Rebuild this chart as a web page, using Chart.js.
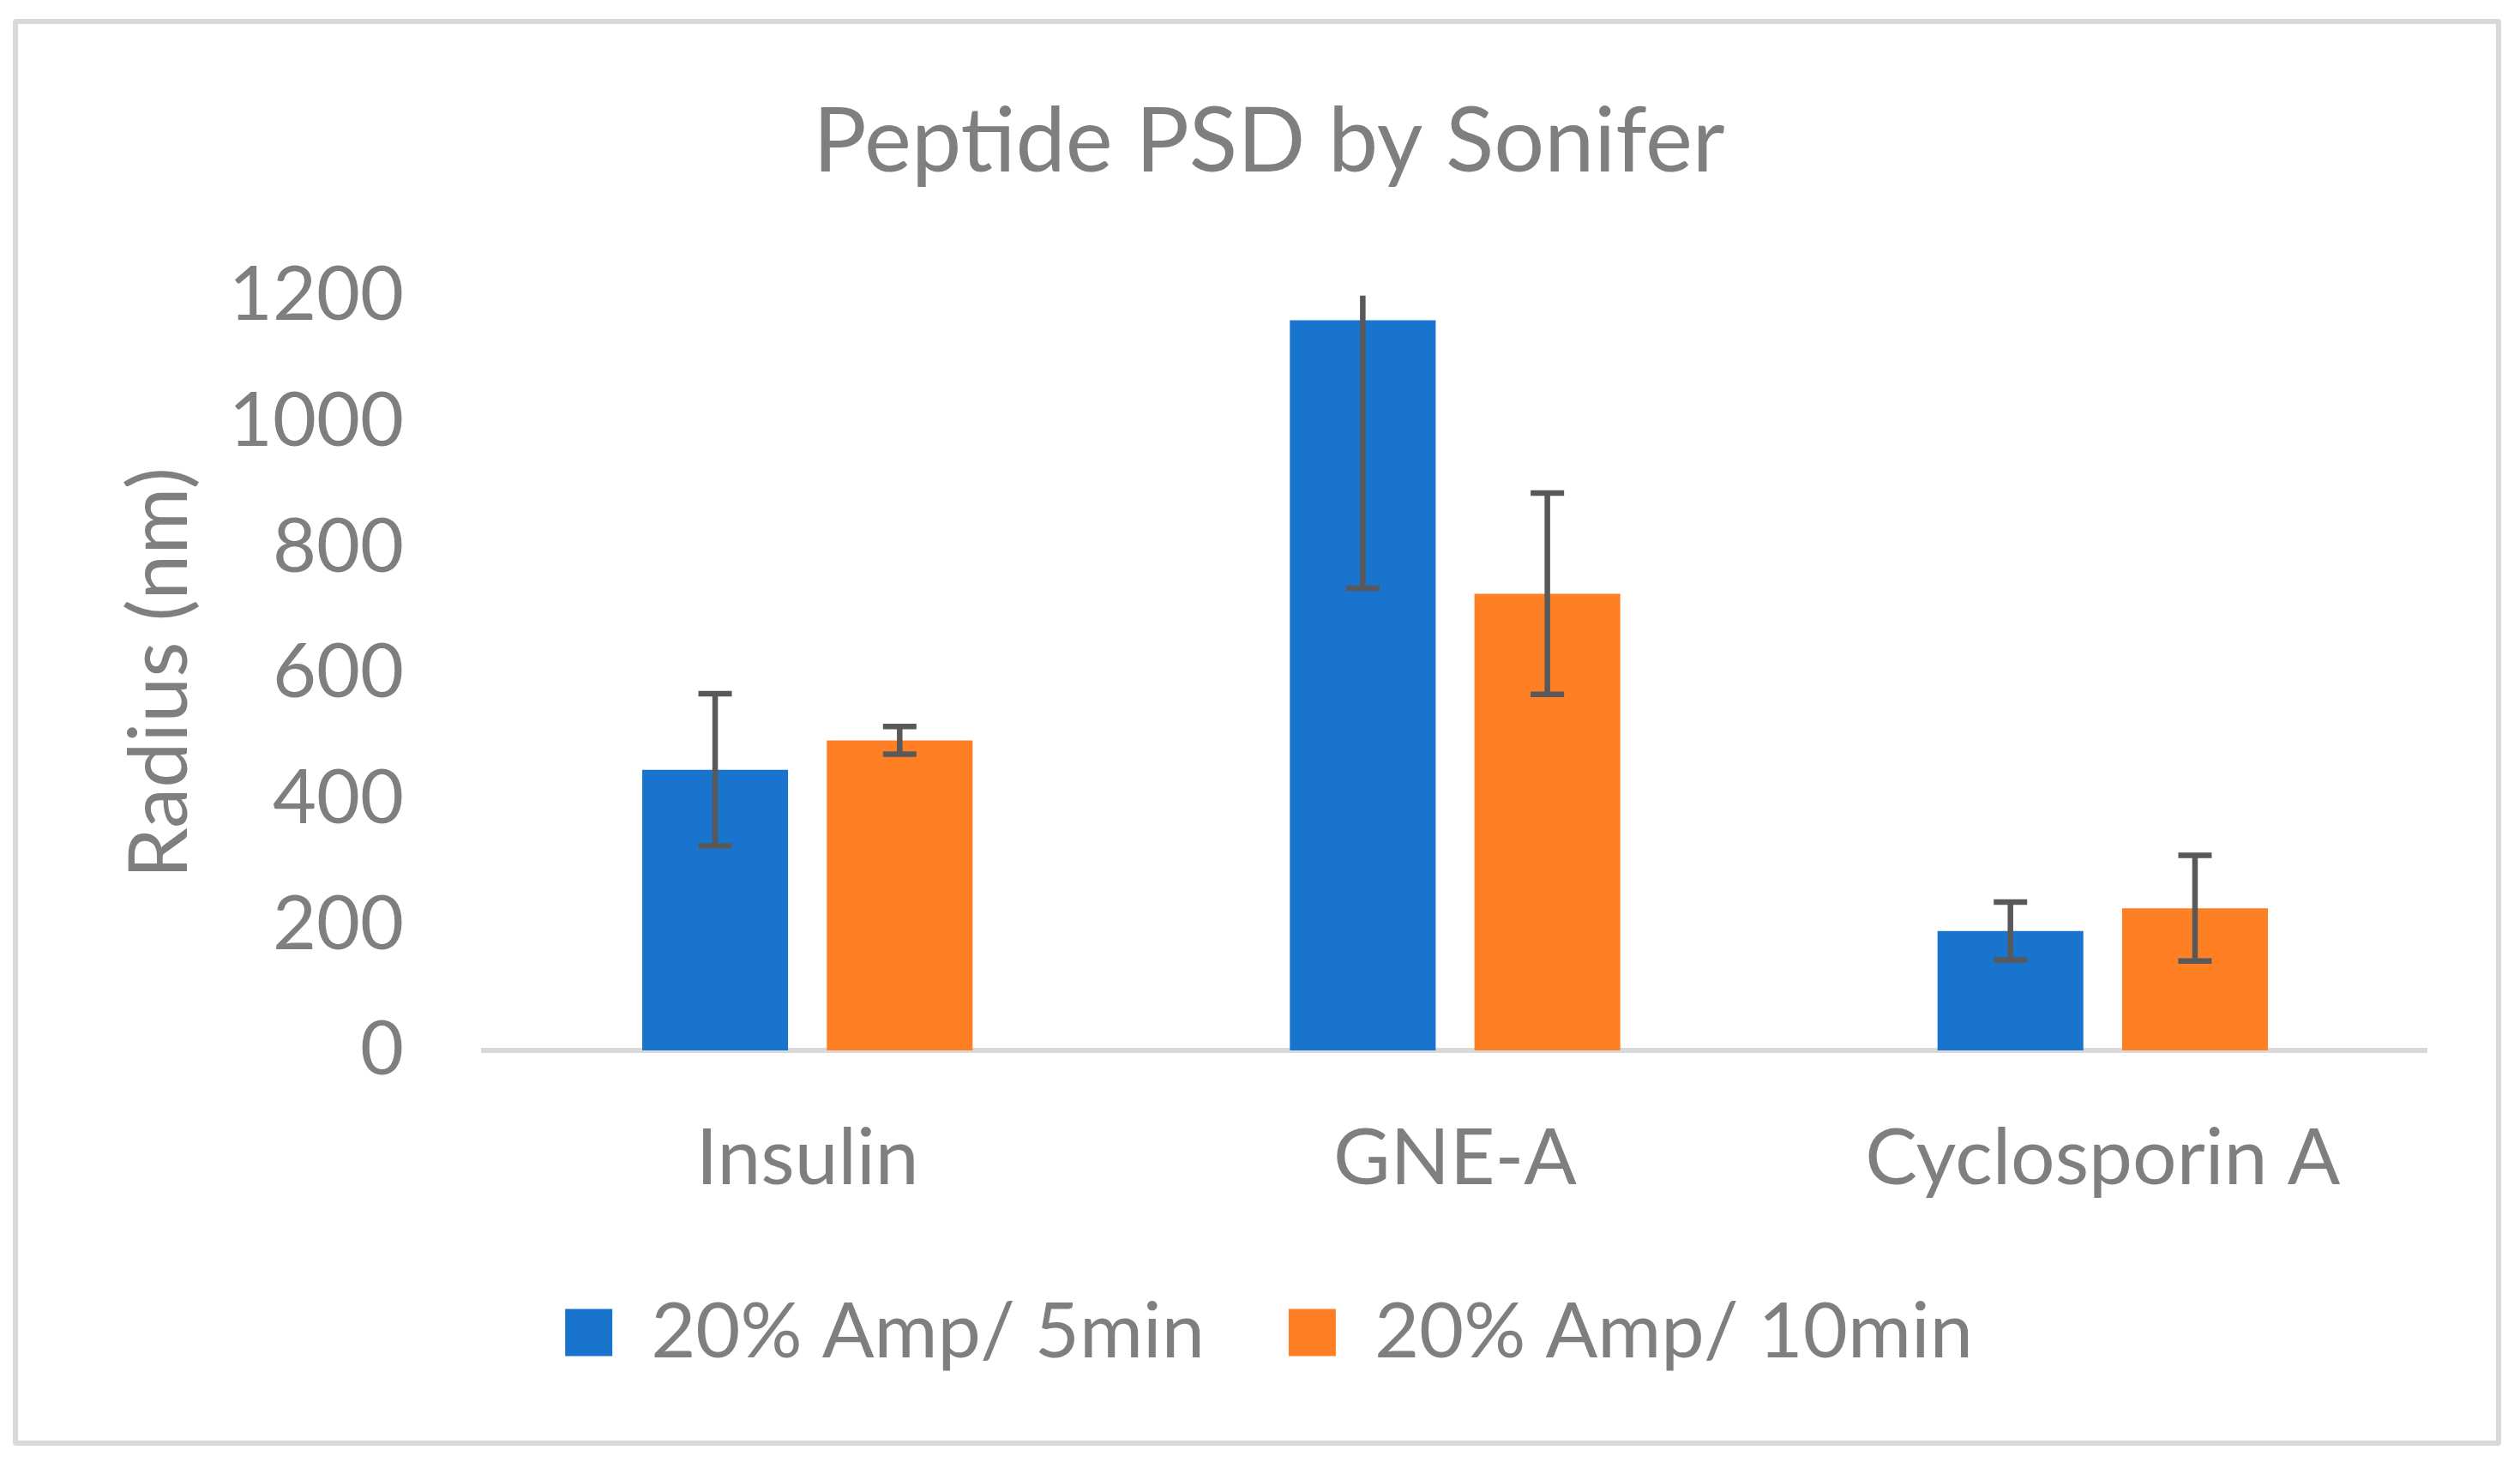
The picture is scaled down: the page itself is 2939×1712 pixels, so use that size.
<!DOCTYPE html>
<html>
<head>
<meta charset="utf-8">
<script src="https://cdn.jsdelivr.net/npm/chart.js@4.4.1/dist/chart.umd.min.js"></script>
<style>
  html, body { margin: 0; padding: 0; background: #fff; }
  #wrap { position: relative; width: 2939px; height: 1712px; }
  #frame { position: absolute; left: 15px; top: 22px; width: 2902px; height: 1664px;
           border: 6px solid #d9d9d9; border-radius: 4px; box-sizing: border-box; }
</style>
</head>
<body>
<div id="wrap">
  <canvas id="psdChart" width="2939" height="1712"></canvas>
  <div id="frame"></div>
</div>
<script>
// data
const peptides = ['Insulin', 'GNE-A', 'Cyclosporin A'];
const seriesNames = ['20% Amp/ 5min', '20% Amp/ 10min'];
const amp5min = [446, 1161, 190];
const amp5minErr = [121, 426, 46];
const amp10min = [493, 726, 226];
const amp10minErr = [22, 160, 84];
const yTicks = [0, 200, 400, 600, 800, 1000, 1200];

const textGrey = '#7f7f7f';
const fontFamily = 'Lato, "Open Sans", sans-serif';

// error bars drawn from the y scale, clipped to the plot area like Excel does
const errorBars = {
  id: 'errorBars',
  afterDatasetsDraw(chart) {
    const { ctx, chartArea, scales: { y } } = chart;
    ctx.save();
    ctx.beginPath();
    ctx.rect(chartArea.left, chartArea.top, chartArea.right - chartArea.left, chartArea.bottom - chartArea.top);
    ctx.clip();
    ctx.strokeStyle = '#595959';
    ctx.lineWidth = 6.5;
    chart.data.datasets.forEach((ds, i) => {
      const meta = chart.getDatasetMeta(i);
      meta.data.forEach((bar, j) => {
        const v = ds.data[j], e = ds.errors[j];
        const top = y.getPixelForValue(v + e);
        const bot = y.getPixelForValue(v - e);
        ctx.beginPath();
        ctx.moveTo(bar.x, top);
        ctx.lineTo(bar.x, bot);
        ctx.moveTo(bar.x - 19.5, top);
        ctx.lineTo(bar.x + 19.5, top);
        ctx.moveTo(bar.x - 19.5, bot);
        ctx.lineTo(bar.x + 19.5, bot);
        ctx.stroke();
      });
    });
    ctx.restore();
  }
};

const ctx = document.getElementById('psdChart').getContext('2d');
new Chart(ctx, {
  type: 'bar',
  data: {
    labels: peptides,
    datasets: [
      { label: seriesNames[0], data: amp5min, errors: amp5minErr, backgroundColor: '#1874CD' },
      { label: seriesNames[1], data: amp10min, errors: amp10minErr, backgroundColor: '#FF7F24' }
    ]
  },
  options: {
    responsive: false,
    devicePixelRatio: 1,
    animation: false,
    categoryPercentage: 0.57,
    barPercentage: 0.79,
    layout: { padding: { left: 130, right: 109, top: 40, bottom: 103 } },
    plugins: {
      title: {
        display: true,
        text: 'Peptide PSD by Sonifer',
        color: textGrey,
        font: { family: fontFamily, size: 104, weight: 'normal' },
        padding: { top: 64, bottom: 116 }
      },
      legend: {
        position: 'bottom',
        labels: {
          color: textGrey,
          font: { family: fontFamily, size: 90 },
          boxWidth: 55,
          boxHeight: 55,
          padding: 98
        }
      },
      tooltip: { enabled: false }
    },
    scales: {
      x: {
        afterFit(scale) { scale.height = 186; },
        grid: { display: false, drawTicks: false },
        border: { display: true, color: '#d9d9d9', width: 6 },
        ticks: { color: textGrey, font: { family: fontFamily, size: 91 }, padding: 72 }
      },
      y: {
        min: 0,
        max: 1200,
        afterBuildTicks(scale) { scale.ticks = yTicks.map(v => ({ value: v })); },
        afterFit(scale) { scale.width = 564 - 130; },
        grid: { display: false, drawTicks: false },
        border: { display: false },
        ticks: {
          color: textGrey,
          font: { family: fontFamily, size: 88 },
          padding: 93,
          callback: v => String(v)
        },
        title: {
          display: true,
          text: 'Radius (nm)',
          color: textGrey,
          font: { family: fontFamily, size: 95 },
          padding: 0
        }
      }
    }
  },
  plugins: [errorBars]
});
</script>
</body>
</html>
